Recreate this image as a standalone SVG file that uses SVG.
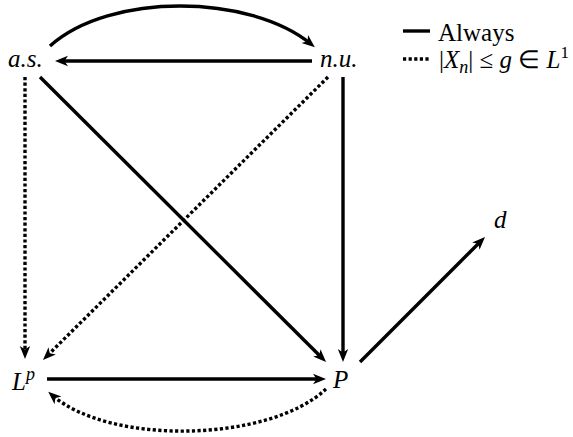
<svg xmlns="http://www.w3.org/2000/svg" width="573" height="437" viewBox="0 0 573 437">
<style>
.lbl{font-family:"Liberation Serif","Times New Roman",serif;font-style:italic;font-size:25px;fill:#000}
.leg{font-family:"Liberation Serif","Times New Roman",serif;font-size:25px;fill:#000}
.it{font-style:italic}
.c{fill:none;stroke:#000;stroke-width:3.4}
.d{stroke-dasharray:3.2 2.4}
</style>
<defs>
<marker id="ah" markerUnits="userSpaceOnUse" markerWidth="18" markerHeight="14" viewBox="-9 -7 18 14" refX="0" refY="0" orient="auto">
<path d="M5,0 L-8,-5.2 L-4.5,0 L-8,5.2 Z" fill="#000"/>
</marker>
</defs>
<rect width="573" height="437" fill="#fff"/>
<g id="connectors">
<path class="c" d="M50,46 C110,-8 250,-6 311,44" marker-end="url(#ah)"/>
<path class="c" d="M312,61 L60,61" marker-end="url(#ah)"/>
<path class="c" d="M40,77 L322.5,358.5" marker-end="url(#ah)"/>
<path class="c" d="M343,77 L343,357" marker-end="url(#ah)"/>
<path class="c" d="M360,362 L481.5,240.5" marker-end="url(#ah)"/>
<path class="c" d="M47,379 L321,379" marker-end="url(#ah)"/>
<path class="c d" d="M25,77 L25,354" marker-end="url(#ah)"/>
<path class="c d" d="M328,77 L46.5,356.5" marker-end="url(#ah)"/>
<path class="c d" d="M326,389 C270,442 110,446 52,395" marker-end="url(#ah)"/>
</g>
<g id="as"><text class="lbl" x="8" y="67">a.s.</text></g>
<g id="nu"><text class="lbl" x="320" y="67">n.u.</text></g>
<g id="Lp"><text class="lbl" x="12" y="390">L<tspan font-size="18" dy="-10">p</tspan></text></g>
<g id="P"><text class="lbl" x="333" y="388">P</text></g>
<g id="d"><text class="lbl" x="494" y="228">d</text></g>
<g id="legend">
<line class="c" x1="403" y1="31" x2="430" y2="31"/>
<text class="leg" x="438" y="41">Always</text>
<line class="c d" x1="403" y1="59" x2="430" y2="59"/>
<text class="leg" x="439" y="68">|<tspan class="it">X</tspan><tspan class="it" font-size="18" dy="5">n</tspan><tspan dy="-5">| ≤ </tspan><tspan class="it">g</tspan> ∈ <tspan class="it">L</tspan><tspan font-size="17" dy="-10">1</tspan></text>
</g>
</svg>
